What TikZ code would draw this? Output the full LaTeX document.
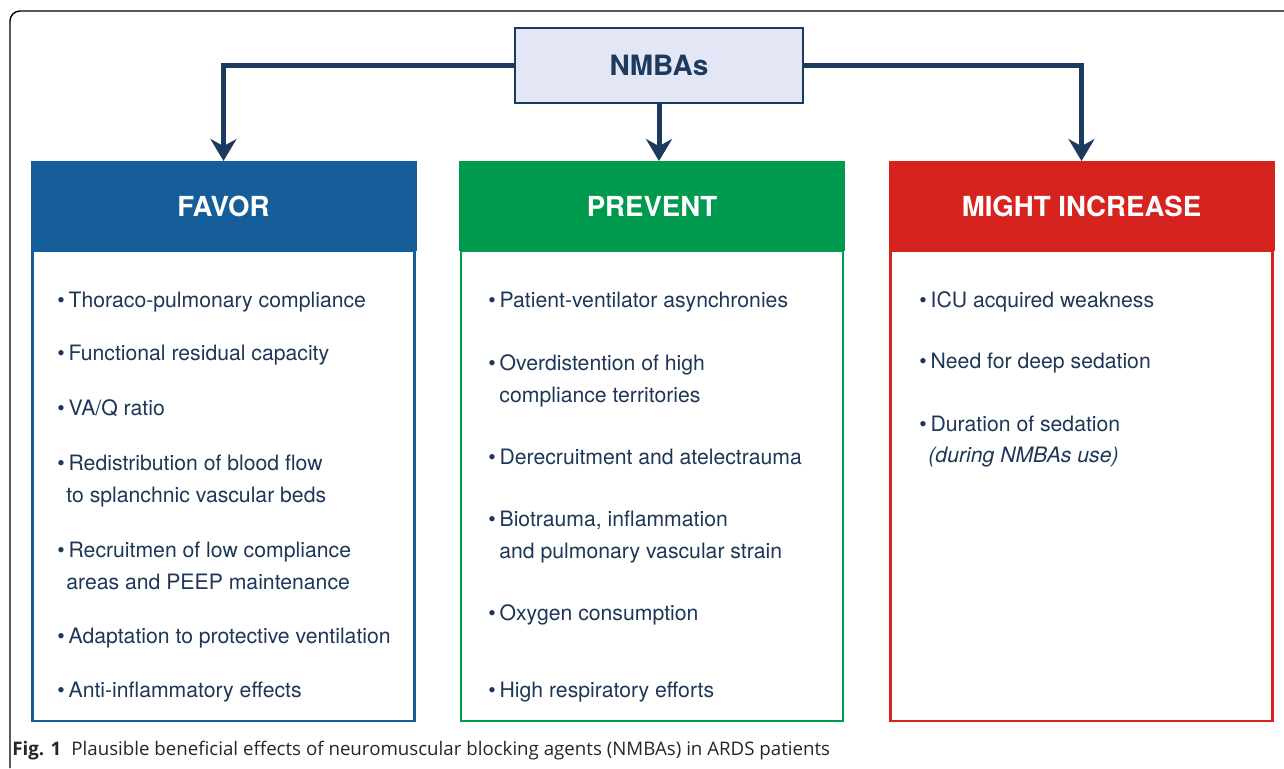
\documentclass[tikz,border=0pt]{standalone}
\usepackage{fontspec}
\setmainfont{TeX Gyre Heros}
\newfontfamily\captionfont{Open Sans}
\usetikzlibrary{arrows.meta}
\definecolor{navy}{RGB}{27,58,94}
\definecolor{navytext}{RGB}{30,55,88}
\definecolor{lavender}{RGB}{227,230,244}
\definecolor{favorblue}{RGB}{22,94,154}
\definecolor{preventgreen}{RGB}{0,154,78}
\definecolor{increasered}{RGB}{215,35,31}
\pgfdeclarelayer{edgelayer}
\pgfdeclarelayer{nodelayer}
\pgfsetlayers{edgelayer,nodelayer,main}
\newcommand{\bul}{\textbullet\hspace{1.9pt}}
\tikzstyle{agent}=[rectangle, fill=lavender, draw=navy, line width=1.2pt, minimum width=144pt, minimum height=37.5pt, inner sep=0, outer sep=0, text=navy, font=\fontsize{14}{16}\selectfont\bfseries]
\tikzstyle{head}=[rectangle, minimum width=193pt, minimum height=45pt, inner sep=0, outer sep=0, text=white, font=\fontsize{13.8}{16}\selectfont\bfseries]
\tikzstyle{panel}=[rectangle, fill=white, line width=1.4pt, minimum width=191pt, minimum height=235pt, inner sep=0, outer sep=0]
\tikzstyle{item}=[anchor=base west, inner sep=0, text=navytext, font=\fontsize{10.6}{16}\selectfont]
\tikzstyle{arrow}=[-{Stealth[length=11pt, width=13pt]}, draw=navy, line width=2.5pt]
\tikzstyle{frame}=[draw=black, line width=0.7pt, rounded corners=5pt]

\begin{document}
\begin{tikzpicture}[x=0.5pt, y=-0.5pt]
            \useasboundingbox (0,0) rectangle (1284,768);
            \draw [style=frame] (1284,11) -| (10,768);
            \begin{pgfonlayer}{nodelayer}
                \node [style=agent] (nmbas) at (659,65.5) {NMBAs};
                \node [style=panel, draw=favorblue] (favor) at (223.5,486) {};
                \node [style=panel, draw=preventgreen] (prevent) at (652,486) {};
                \node [style=panel, draw=increasered] (increase) at (1081.5,486) {};
                \node [style=head, fill=favorblue] (favorhead) at (223.5,206) {FAVOR};
                \node [style=head, fill=preventgreen] (preventhead) at (652,206) {PREVENT};
                \node [style=head, fill=increasered] (increasehead) at (1081.5,206) {MIGHT INCREASE};
                % favor
                \node [style=item] (f1) at (57,307.5) {\bul Thoraco-pulmonary compliance};
                \node [style=item] (f2) at (57,360.5) {\bul Functional residual capacity};
                \node [style=item] (f3) at (57,415.5) {\bul VA/Q ratio};
                \node [style=item] (f4) at (57,470.5) {\bul Redistribution of blood flow};
                \node [style=item] (f4b) at (66,502.5) {to splanchnic vascular beds};
                \node [style=item] (f5) at (57,557.5) {\bul Recruitmen of low compliance};
                \node [style=item] (f5b) at (66,589.5) {areas and PEEP maintenance};
                \node [style=item] (f6) at (57,643.5) {\bul Adaptation to protective ventilation};
                \node [style=item] (f7) at (57,697.5) {\bul Anti-inflammatory effects};
                % prevent
                \node [style=item] (p1) at (488,307.5) {\bul Patient-ventilator asynchronies};
                \node [style=item] (p2) at (488,370) {\bul Overdistention of high};
                \node [style=item] (p2b) at (499,402) {compliance territories};
                \node [style=item] (p3) at (488,464) {\bul Derecruitment and atelectrauma};
                \node [style=item] (p4) at (488,526) {\bul Biotrauma, inflammation};
                \node [style=item] (p4b) at (499,558) {and pulmonary vascular strain};
                \node [style=item] (p5) at (488,620) {\bul Oxygen consumption};
                \node [style=item] (p6) at (488,697.5) {\bul High respiratory efforts};
                % might increase
                \node [style=item] (i1) at (919,307) {\bul ICU acquired weakness};
                \node [style=item] (i2) at (919,368.5) {\bul Need for deep sedation};
                \node [style=item] (i3) at (919,431) {\bul Duration of sedation};
                \node [style=item] (i3b) at (928,462.5) {\itshape (during NMBAs use)};
                \node [anchor=base west, inner sep=0, text=black!85, font=\captionfont\fontsize{9.35}{11}\selectfont] (caption) at (12,755) {\textbf{Fig. 1}\hspace{5pt}Plausible beneficial effects of neuromuscular blocking agents (NMBAs) in ARDS patients};
            \end{pgfonlayer}
            \begin{pgfonlayer}{edgelayer}
                \draw [style=arrow] (nmbas.west) -| (favorhead.north);
                \draw [style=arrow] (nmbas.south) -- (nmbas.south |- preventhead.north);
                \draw [style=arrow] (nmbas.east) -| (increasehead.north);
            \end{pgfonlayer}
        \end{tikzpicture}
\end{document}
